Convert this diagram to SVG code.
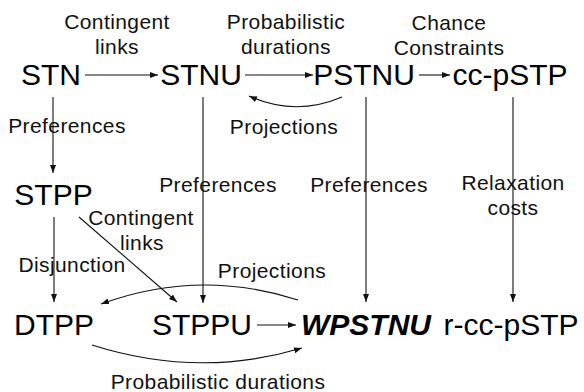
<svg xmlns="http://www.w3.org/2000/svg" width="584" height="392" viewBox="0 0 584 392">
<style>
.node{font-family:"Liberation Sans",Arial,Helvetica,sans-serif;font-size:30px;fill:#000;text-anchor:middle}
.lbl{font-family:"Liberation Sans",Arial,Helvetica,sans-serif;font-size:21px;letter-spacing:0.4px;fill:#111;text-anchor:middle}
.edge{fill:none;stroke:#111;stroke-width:1.1}
.bi{font-weight:bold;font-style:italic}
</style>
<defs>
<marker id="ah" markerUnits="userSpaceOnUse" markerWidth="9" markerHeight="7" refX="8" refY="3" orient="auto">
<path d="M0,0 L8,3 L0,6 z" fill="#111"/>
</marker>
</defs>
<rect width="584" height="392" fill="#fff"/>
<g id="connectors">
<path class="edge" d="M85,75 L158,75" marker-end="url(#ah)"/>
<path class="edge" d="M245,75 L313,75" marker-end="url(#ah)"/>
<path class="edge" d="M419,75 L450,75" marker-end="url(#ah)"/>
<path class="edge" d="M342,97 Q295,117 249,96" marker-end="url(#ah)"/>
<path class="edge" d="M53,97 L53,173" marker-end="url(#ah)"/>
<path class="edge" d="M203,97 L203,303" marker-end="url(#ah)"/>
<path class="edge" d="M366,97 L366,302" marker-end="url(#ah)"/>
<path class="edge" d="M513,97 L513,302" marker-end="url(#ah)"/>
<path class="edge" d="M54,217 L54,302" marker-end="url(#ah)"/>
<path class="edge" d="M79,217 L177,302" marker-end="url(#ah)"/>
<path class="edge" d="M298,300 Q199,268 101,304" marker-end="url(#ah)"/>
<path class="edge" d="M257,325 L296,325" marker-end="url(#ah)"/>
<path class="edge" d="M92,345 Q199,379 302,348" marker-end="url(#ah)"/>
<text class="lbl" x="117" y="29">Contingent</text>
<text class="lbl" x="117" y="54">links</text>
<text class="lbl" x="286" y="29">Probabilistic</text>
<text class="lbl" x="286" y="54">durations</text>
<text class="lbl" x="449" y="30">Chance</text>
<text class="lbl" x="449" y="55">Constraints</text>
<text class="lbl" x="284" y="134">Projections</text>
<text class="lbl" x="67" y="133">Preferences</text>
<text class="lbl" x="218" y="192">Preferences</text>
<text class="lbl" x="369" y="192">Preferences</text>
<text class="lbl" x="513" y="190">Relaxation</text>
<text class="lbl" x="513" y="215">costs</text>
<text class="lbl" x="141" y="225">Contingent</text>
<text class="lbl" x="142" y="250">links</text>
<text class="lbl" x="72" y="272">Disjunction</text>
<text class="lbl" x="272" y="278">Projections</text>
<text class="lbl" x="218" y="389">Probabilistic durations</text>
</g>
<g id="STN"><text class="node" x="51" y="85">STN</text></g>
<g id="STNU"><text class="node" x="201" y="85">STNU</text></g>
<g id="PSTNU"><text class="node" x="364" y="85">PSTNU</text></g>
<g id="cc-pSTP"><text class="node" x="510" y="85">cc-pSTP</text></g>
<g id="STPP"><text class="node" x="53.5" y="205">STPP</text></g>
<g id="DTPP"><text class="node" x="54" y="335">DTPP</text></g>
<g id="STPPU"><text class="node" x="202" y="335">STPPU</text></g>
<g id="WPSTNU"><text class="node bi" x="366" y="335">WPSTNU</text></g>
<g id="r-cc-pSTP"><text class="node" x="511" y="335">r-cc-pSTP</text></g>
</svg>
